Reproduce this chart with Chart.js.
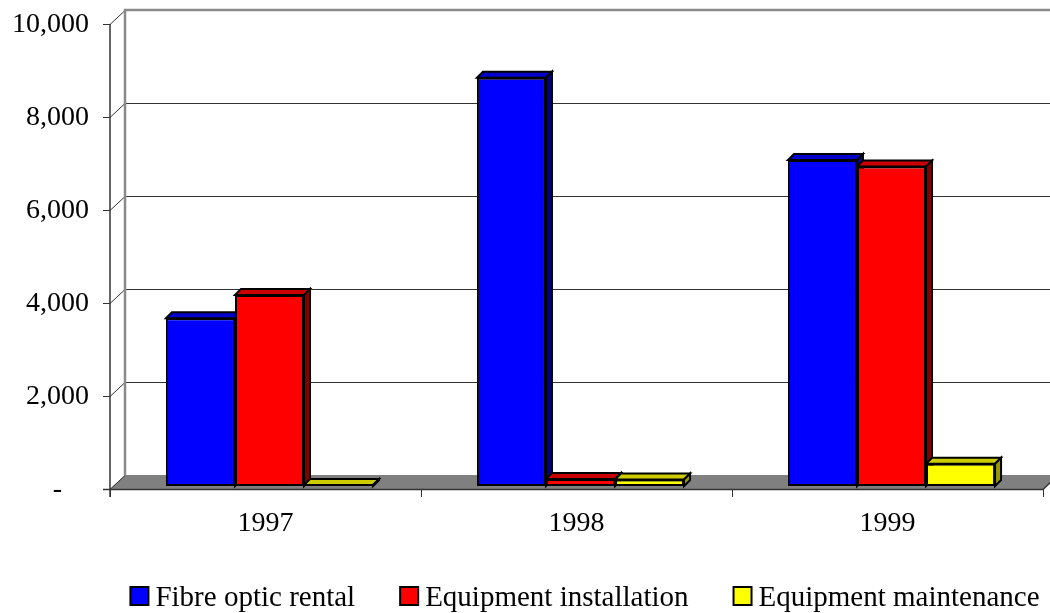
<!DOCTYPE html>
<html>
<head>
<meta charset="utf-8">
<script src="https://cdn.jsdelivr.net/npm/chart.js@4/dist/chart.umd.min.js"></script>
<style>
html,body{margin:0;padding:0;background:#fff;}
#c{display:block;}
</style>
</head>
<body>
<canvas id="c" width="1050" height="613"></canvas>
<script>
const categories = ['1997', '1998', '1999'];
const seriesNames = ['Fibre optic rental', 'Equipment installation', 'Equipment maintenance'];
const fibreOpticRental = [3610, 8780, 7010];
const equipmentInstallation = [4110, 150, 6870];
const equipmentMaintenance = [20, 140, 480];
const yTickValues = [0, 2000, 4000, 6000, 8000, 10000];
const yTickLabels = ['-', '2,000', '4,000', '6,000', '8,000', '10,000'];

const seriesColors = ['#0000FF', '#FF0000', '#FFFF00'];
const topColors = ['#0000CC', '#CC0000', '#CCCC00'];
const sideColors = ['#000080', '#800000', '#999900'];

const FONT = '"Liberation Serif", "Times New Roman", serif';
const WALL_DX = 15, WALL_DY = 14;   // depth of the back wall
const BAR_DX = 6, BAR_DY = 6;       // depth of each column
const BAR_SHIFT_X = 4, BAR_SHIFT_Y = 3;

const threeD = {
  id: 'threeD',
  beforeDatasetsDraw(chart) {
    const ctx = chart.ctx;
    const ca = chart.chartArea;
    const ys = chart.scales.y;
    const L = ca.left, R = ca.right, B = ys.getPixelForValue(0), T = ys.getPixelForValue(10000);
    ctx.save();
    // floor
    ctx.fillStyle = '#808080';
    ctx.beginPath();
    ctx.moveTo(L, B); ctx.lineTo(R, B); ctx.lineTo(R + WALL_DX, B - WALL_DY); ctx.lineTo(L + WALL_DX, B - WALL_DY);
    ctx.closePath(); ctx.fill();
    // back-wall gridlines
    ctx.strokeStyle = '#333333'; ctx.lineWidth = 1;
    yTickValues.forEach(v => {
      const y = Math.round(ys.getPixelForValue(v)) + 0.5;
      if (v > 0 && v < 10000) {
        ctx.beginPath(); ctx.moveTo(L + WALL_DX, y - WALL_DY); ctx.lineTo(R + WALL_DX + 20, y - WALL_DY); ctx.stroke();
      }
      ctx.beginPath(); ctx.moveTo(L, y); ctx.lineTo(L + WALL_DX, y - WALL_DY); ctx.stroke();
      ctx.beginPath(); ctx.moveTo(L - 7, y); ctx.lineTo(L, y); ctx.stroke();
    });
    // wall edges (grey)
    ctx.strokeStyle = '#8a8a8a'; ctx.lineWidth = 2.5;
    ctx.beginPath();
    ctx.moveTo(L + WALL_DX, B - WALL_DY); ctx.lineTo(L + WALL_DX, T - WALL_DY); ctx.lineTo(R + WALL_DX + 20, T - WALL_DY);
    ctx.stroke();
    // front axes
    ctx.strokeStyle = '#333333'; ctx.lineWidth = 1.5;
    ctx.beginPath(); ctx.moveTo(L, T); ctx.lineTo(L, B + 8); ctx.stroke();
    ctx.beginPath(); ctx.moveTo(L - 7, B + 0.5); ctx.lineTo(R, B + 0.5); ctx.lineTo(R + WALL_DX, B - WALL_DY); ctx.stroke();
    // category ticks
    const xs = chart.scales.x;
    ctx.lineWidth = 1;
    for (let i = 0; i <= categories.length; i++) {
      const x = Math.round(L + (R - L) * i / categories.length) + 0.5;
      ctx.beginPath(); ctx.moveTo(x, B); ctx.lineTo(x, B + 8); ctx.stroke();
    }
    // y tick labels
    ctx.fillStyle = '#000'; ctx.font = '28px ' + FONT; ctx.textAlign = 'right'; ctx.textBaseline = 'middle';
    yTickValues.forEach((v, i) => {
      ctx.fillText(yTickLabels[i], i === 0 ? 62 : 89, ys.getPixelForValue(v) + 1);
    });
    // category labels
    ctx.textAlign = 'center';
    categories.forEach((c, i) => ctx.fillText(c, xs.getPixelForValue(i), B + 35));
    ctx.restore();

    // 3D faces of columns, then let Chart.js draw front faces
    ctx.save();
    ctx.translate(BAR_SHIFT_X, -BAR_SHIFT_Y);
    ctx.lineWidth = 2; ctx.strokeStyle = '#000'; ctx.lineJoin = 'miter';
    for (let j = 0; j < categories.length; j++) {
      for (let d = 0; d < chart.data.datasets.length; d++) {
        const el = chart.getDatasetMeta(d).data[j];
        const p = el.getProps(['x', 'y', 'base', 'width'], true);
        const l = p.x - p.width / 2, r = p.x + p.width / 2, top = p.y, base = p.base;
        ctx.fillStyle = topColors[d];
        ctx.beginPath();
        ctx.moveTo(l, top); ctx.lineTo(r, top); ctx.lineTo(r + BAR_DX, top - BAR_DY); ctx.lineTo(l + BAR_DX, top - BAR_DY);
        ctx.closePath(); ctx.fill(); ctx.stroke();
        ctx.fillStyle = sideColors[d];
        ctx.beginPath();
        ctx.moveTo(r, top); ctx.lineTo(r + BAR_DX, top - BAR_DY); ctx.lineTo(r + BAR_DX, base - BAR_DY); ctx.lineTo(r, base);
        ctx.closePath(); ctx.fill(); ctx.stroke();
      }
    }
  },
  afterDatasetsDraw(chart) {
    const ctx = chart.ctx;
    ctx.restore();
    // legend
    ctx.save();
    ctx.font = '29px ' + FONT; ctx.textBaseline = 'alphabetic'; ctx.textAlign = 'left';
    const box = 18, gapBox = 7, gapItem = 45;
    const widths = seriesNames.map(n => ctx.measureText(n).width);
    const total = widths.reduce((a, w) => a + box + gapBox + w, 0) + gapItem * (seriesNames.length - 1);
    let x = 585 - total / 2;
    const baseY = 606;
    seriesNames.forEach((n, i) => {
      ctx.fillStyle = seriesColors[i];
      ctx.fillRect(x, baseY - 19, box, box);
      ctx.strokeStyle = '#000'; ctx.lineWidth = 2;
      ctx.strokeRect(x, baseY - 19, box, box);
      ctx.fillStyle = '#000';
      ctx.fillText(n, x + box + gapBox, baseY);
      x += box + gapBox + widths[i] + gapItem;
    });
    ctx.restore();
  }
};

new Chart(document.getElementById('c'), {
  type: 'bar',
  data: {
    labels: categories,
    datasets: [
      { label: seriesNames[0], data: fibreOpticRental, backgroundColor: seriesColors[0] },
      { label: seriesNames[1], data: equipmentInstallation, backgroundColor: seriesColors[1] },
      { label: seriesNames[2], data: equipmentMaintenance, backgroundColor: seriesColors[2] }
    ].map(d => Object.assign(d, { borderColor: '#000', borderWidth: 2, borderSkipped: false, clip: false, barPercentage: 1, categoryPercentage: 0.666 }))
  },
  options: {
    responsive: false,
    animation: false,
    devicePixelRatio: 1,
    layout: { padding: { left: 110, right: 7, top: 24, bottom: 124 } },
    plugins: { legend: { display: false }, tooltip: { enabled: false } },
    scales: {
      x: { display: false },
      y: { display: false, min: 0, max: 10000 }
    }
  },
  plugins: [threeD]
});
</script>
</body>
</html>
